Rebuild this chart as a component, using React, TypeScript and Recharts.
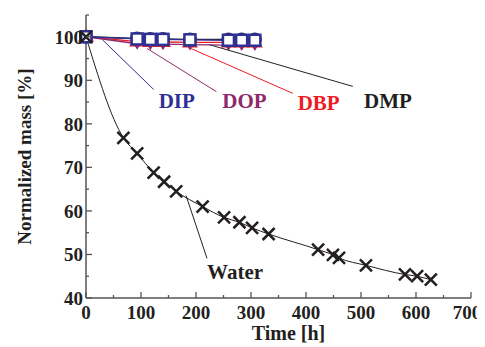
import {
  ComposedChart,
  Line,
  XAxis,
  YAxis,
  Scatter,
  ReferenceLine,
  Label,
} from 'recharts'

const times = [0, 93, 117, 140, 189, 259, 283, 307]
const dipMass = [100, 99.5, 99.4, 99.4, 99.3, 99.2, 99.2, 99.2]
const dmpMass = [100, 99.6, 99.5, 99.5, 99.4, 99.4, 99.4, 99.4]
const dbpMass = [100, 98.9, 98.8, 98.8, 98.7, 98.7, 98.7, 98.7]
const dopMass = [100, 98.4, 98.3, 98.3, 98.2, 98.1, 98.1, 98.1]

const waterTimes = [0, 68, 93, 123, 142, 164, 212, 251, 279, 302, 332, 422, 449, 460, 509, 580, 602, 627]
const waterMass = [100, 76.8, 73.2, 68.8, 66.7, 64.5, 61, 58.5, 57.4, 56.1, 54.7, 51.1, 49.9, 49.2, 47.5, 45.4, 45, 44.2]

const xTicks = [0, 50, 100, 150, 200, 250, 300, 350, 400, 450, 500, 550, 600, 650, 700]
const yTicks = [40, 45, 50, 55, 60, 65, 70, 75, 80, 85, 90, 95, 100, 105]

const labels = [
  { t: 165, m: 85.2, text: 'DIP', color: '#2e3192' },
  { t: 288, m: 85.2, text: 'DOP', color: '#8e2a6a' },
  { t: 423, m: 84.7, text: 'DBP', color: '#ed1c24' },
  { t: 549, m: 85.2, text: 'DMP', color: '#231f20' },
  { t: 271, m: 45.9, text: 'Water', color: '#231f20' },
]

const leaders = [
  { from: [30, 99.3], to: [123, 87.9], color: '#2e3192' },
  { from: [111, 97.3], to: [237, 87.4], color: '#8e2a6a' },
  { from: [191, 97.3], to: [376, 87], color: '#ed1c24' },
  { from: [224, 98.2], to: [485, 88.6], color: '#231f20' },
  { from: [182, 63.5], to: [220, 49.1], color: '#231f20' },
]

const font = 'Liberation Serif, Times New Roman, serif'

const toRows = (xs: number[], ys: number[]) => xs.map((t, i) => ({ t, m: ys[i] }))

const XTick = ({ x, y, payload }: any) => {
  const major = payload.value % 100 === 0
  // last label sits at the page edge, pull it in a bit
  const nudge = payload.value === 700 ? -4 : 0
  return (
    <g>
      <line x1={x} x2={x} y1={y} y2={y - (major ? 6 : 3)} stroke="#555" strokeWidth={1.3} />
      {major && (
        <text x={x + nudge} y={y + 21} textAnchor="middle" fontFamily={font} fontWeight="bold" fontSize={19} fill="#231f20">
          {payload.value}
        </text>
      )}
    </g>
  )
}

const YTick = ({ x, y, payload }: any) => {
  const major = payload.value % 10 === 0 && payload.value <= 100
  return (
    <g>
      <line x1={x} x2={x + (major ? 6 : 3)} y1={y} y2={y} stroke="#555" strokeWidth={1.3} />
      {major && (
        <text x={x - 3} y={y + 7} textAnchor="end" fontFamily={font} fontWeight="bold" fontSize={19} fill="#231f20">
          {payload.value}
        </text>
      )}
    </g>
  )
}

const Cross = ({ cx, cy }: any) => (
  <g stroke="#231f20" strokeWidth={2.5}>
    <line x1={cx - 6} y1={cy - 6} x2={cx + 6} y2={cy + 6} />
    <line x1={cx - 6} y1={cy + 6} x2={cx + 6} y2={cy - 6} />
  </g>
)

const Square = ({ cx, cy }: any) => (
  <rect x={cx - 5.5} y={cy - 5.5} width={11} height={11} fill="#fff" stroke="#2e3192" strokeWidth={2.5} />
)

const Circle = ({ cx, cy }: any) => <circle cx={cx} cy={cy} r={7} fill="#2b2a5e" />

const TriUp = ({ cx, cy }: any) => (
  <path d={`M${cx},${cy - 8} L${cx + 8},${cy + 5} L${cx - 8},${cy + 5} Z`} fill="#ed1c24" />
)

const TriDown = ({ cx, cy }: any) => (
  <path d={`M${cx - 6},${cy - 4} L${cx + 6},${cy - 4} L${cx},${cy + 6} Z`} fill="#8e2a6a" />
)

const LabelText = ({ cx, cy, payload }: any) => (
  <text x={cx} y={cy + 7} textAnchor="middle" fontFamily={font} fontWeight="bold" fontSize={21} fill={payload.color}>
    {payload.text}
  </text>
)

export default function App() {
  return (
    <ComposedChart width={477} height={339} margin={{ top: 7, right: 14, left: 0, bottom: 0 }}>
      <XAxis
        dataKey="t"
        type="number"
        domain={[0, 700]}
        ticks={xTicks}
        interval={0}
        tickSize={0}
        tickMargin={0}
        tick={<XTick />}
        height={49}
        stroke="#555"
        strokeWidth={1.5}
      >
        <Label
          value="Time [h]"
          position="insideBottom"
          offset={7}
          dx={10}
          style={{ fontFamily: font, fontWeight: 'bold', fontSize: 20, fill: '#231f20' }}
        />
      </XAxis>
      <YAxis
        dataKey="m"
        type="number"
        domain={[40, 105]}
        ticks={yTicks}
        interval={0}
        tickSize={0}
        tickMargin={0}
        tick={<YTick />}
        width={78}
        stroke="#555"
        strokeWidth={1.5}
      >
        <Label
          value="Normalized mass [%]"
          angle={-90}
          position="insideLeft"
          offset={16}
          style={{ textAnchor: 'middle', fontFamily: font, fontWeight: 'bold', fontSize: 19, fill: '#231f20' }}
        />
      </YAxis>
      {leaders.map((l, i) => (
        <ReferenceLine
          key={i}
          segment={[{ x: l.from[0], y: l.from[1] }, { x: l.to[0], y: l.to[1] }]}
          stroke={l.color}
          strokeWidth={1}
        />
      ))}
      <Line data={toRows(times, dmpMass)} dataKey="m" stroke="#231f20" strokeWidth={1.3} dot={<Circle />} isAnimationActive={false} />
      <Line data={toRows(times, dbpMass)} dataKey="m" stroke="#ed1c24" strokeWidth={1.3} dot={<TriUp />} isAnimationActive={false} />
      <Line data={toRows(times, dopMass)} dataKey="m" stroke="#8e2a6a" strokeWidth={1.3} dot={<TriDown />} isAnimationActive={false} />
      <Line data={toRows(times, dipMass)} dataKey="m" stroke="#2e3192" strokeWidth={1.3} dot={<Square />} isAnimationActive={false} />
      <Line
        data={toRows(waterTimes, waterMass)}
        dataKey="m"
        type="monotone"
        stroke="#231f20"
        strokeWidth={1}
        dot={<Cross />}
        isAnimationActive={false}
      />
      <Scatter data={labels} dataKey="m" shape={<LabelText />} isAnimationActive={false} />
    </ComposedChart>
  )
}
